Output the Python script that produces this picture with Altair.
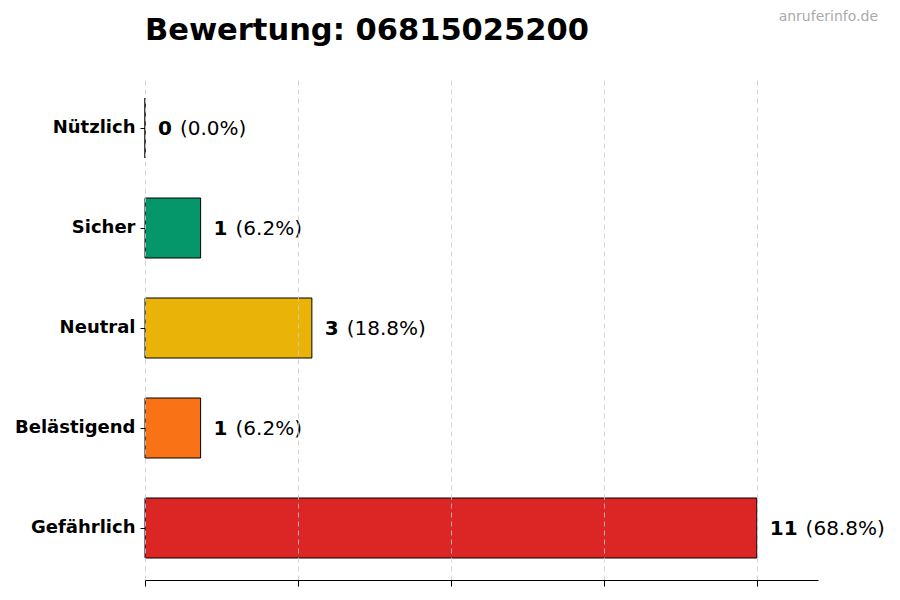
import altair as alt
import pandas as pd

categories = ["Nützlich", "Sicher", "Neutral", "Belästigend", "Gefährlich"]
counts = [0, 1, 3, 1, 11]
colors = ["#16a34a", "#059669", "#EAB308", "#F97316", "#DC2626"]
tick_values = [0, 2.75, 5.5, 8.25, 11]
title_text = "Bewertung: 06815025200"
watermark = "anruferinfo.de"

total = sum(counts)
df = pd.DataFrame({
    "cat": categories,
    "count": counts,
    "color": colors,
    "pct": [f"({c / total * 100:.1f}%)" for c in counts],
    "ndig": [len(str(c)) for c in counts],
})

FONT = "DejaVu Sans"

x_enc = alt.X(
    "count:Q",
    scale=alt.Scale(domain=[0, max(counts) * 1.1], nice=False, zero=True),
    axis=alt.Axis(
        values=tick_values, labels=False, title=None, grid=True,
        gridColor="#cccccc", gridDash=[5, 4], gridOpacity=0.8, gridWidth=1,
        domainColor="black", domainWidth=1, tickColor="black", tickSize=6,
        zindex=1,
    ),
)
y_enc = alt.Y(
    "cat:N", sort=categories,
    scale=alt.Scale(paddingInner=0.4, paddingOuter=0.22),
    axis=alt.Axis(
        title=None, domain=False, grid=False, ticks=True, tickColor="black",
        tickSize=5, labelPadding=5, labelFont=FONT, labelFontSize=18,
        labelFontWeight="bold", labelColor="black",
    ),
)

base = alt.Chart(df)

bars = base.mark_bar(stroke="black", strokeWidth=1).encode(
    x=x_enc, y=y_enc,
    color=alt.Color("color:N", scale=None),
)

nums = base.mark_text(
    align="left", baseline="middle", dx=13, dy=1, font=FONT, fontSize=20,
    fontWeight="bold", color="black",
).encode(
    x=alt.X("count:Q"), y=alt.Y("cat:N", sort=categories),
    text=alt.Text("count:Q"),
)

pct_layers = []
for n in sorted(set(df["ndig"])):
    pct_layers.append(
        base.transform_filter(alt.datum.ndig == n).mark_text(
            align="left", baseline="middle", font=FONT, fontSize=20,
            color="black", dx=13 + n * 13.9 + 8, dy=1,
        ).encode(
            x=alt.X("count:Q"), y=alt.Y("cat:N", sort=categories),
            text=alt.Text("pct:N"),
        )
    )

wm = alt.Chart(pd.DataFrame({"t": [watermark]})).mark_text(
    align="right", baseline="middle", font=FONT, fontSize=14, color="#aaaaaa",
).encode(
    x=alt.value(733), y=alt.value(-59), text="t:N",
)

chart = alt.layer(bars, nums, *pct_layers, wm).properties(
    width=673, height=504,
    background="white",
    title=alt.TitleParams(
        title_text, anchor="start", frame="group", font=FONT, fontSize=30.5,
        fontWeight="bold", color="black", offset=-36,
    ),
    autosize=alt.AutoSizeParams(type="none"),
    padding={"left": 137, "top": 68, "right": 74, "bottom": 12},
).configure_view(stroke="transparent", strokeWidth=0)

chart.save("out.html", embed_options={"renderer": "svg", "actions": False})
